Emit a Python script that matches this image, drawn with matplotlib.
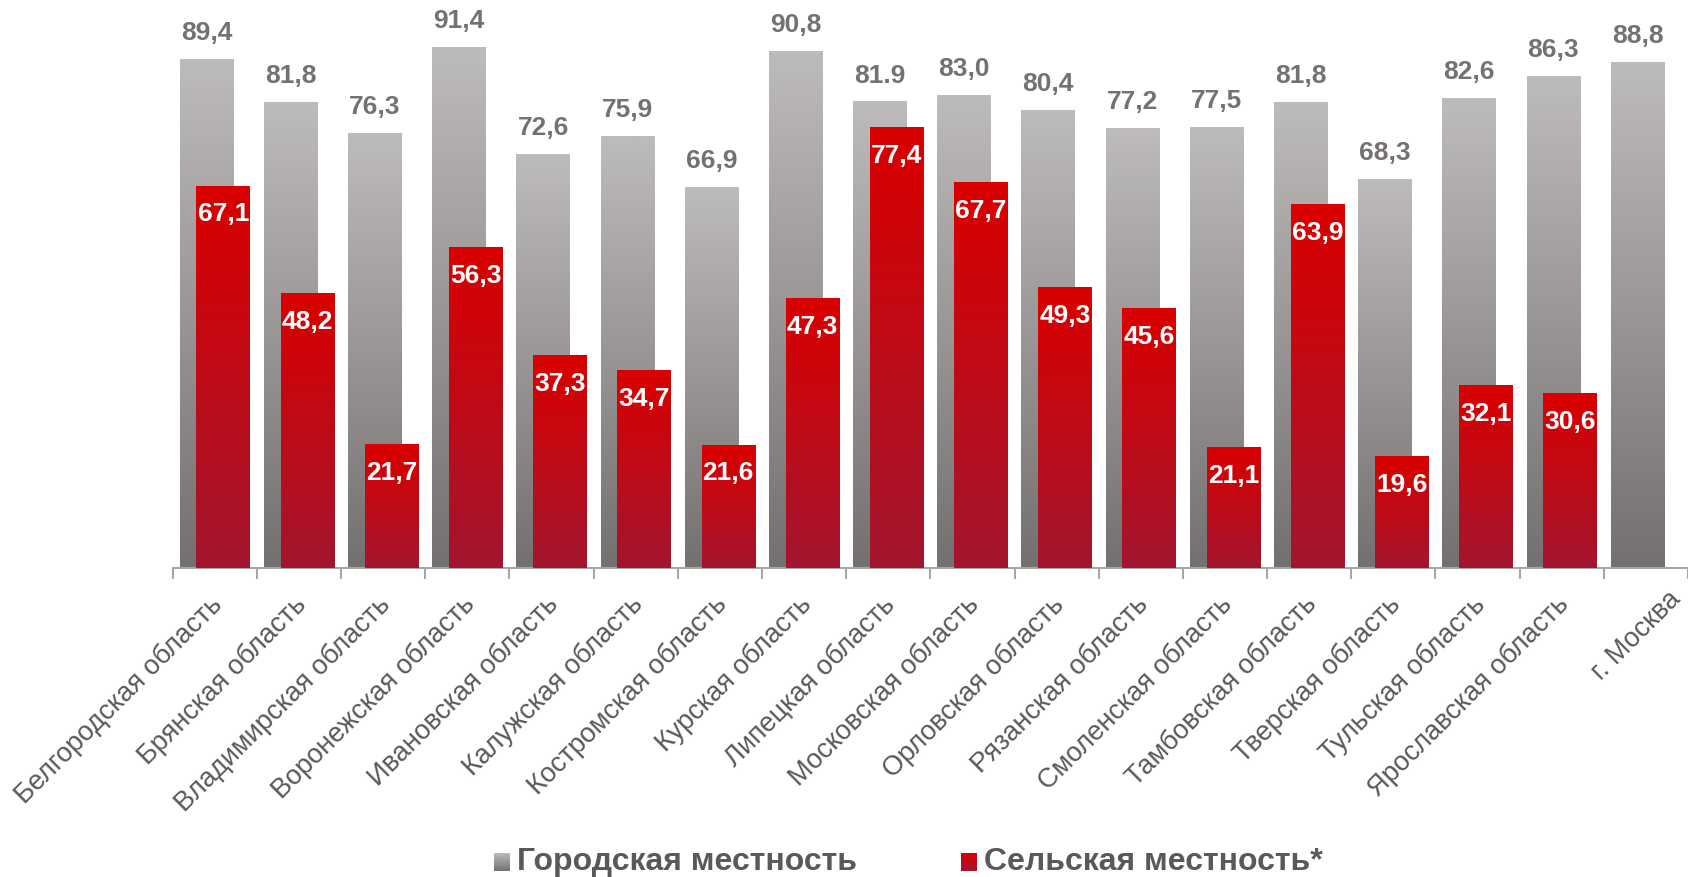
import numpy as np
import matplotlib
matplotlib.use('Agg')
import matplotlib.pyplot as plt
import matplotlib.transforms as mtransforms
from matplotlib.colors import LinearSegmentedColormap

plt.rcParams['font.family'] = ['Liberation Sans', 'DejaVu Sans']

# ---- данные ----
regions = ['Белгородская область', 'Брянская область', 'Владимирская область',
           'Воронежская область', 'Ивановская область', 'Калужская область',
           'Костромская область', 'Курская область', 'Липецкая область',
           'Московская область', 'Орловская область', 'Рязанская область',
           'Смоленская область', 'Тамбовская область', 'Тверская область',
           'Тульская область', 'Ярославская область', 'г. Москва']
urban = [89.4, 81.8, 76.3, 91.4, 72.6, 75.9, 66.9, 90.8, 81.9,
         83.0, 80.4, 77.2, 77.5, 81.8, 68.3, 82.6, 86.3, 88.8]
rural = [67.1, 48.2, 21.7, 56.3, 37.3, 34.7, 21.6, 47.3, 77.4,
         67.7, 49.3, 45.6, 21.1, 63.9, 19.6, 32.1, 30.6, np.nan]
urban_labels = ['89,4', '81,8', '76,3', '91,4', '72,6', '75,9', '66,9', '90,8', '81.9',
                '83,0', '80,4', '77,2', '77,5', '81,8', '68,3', '82,6', '86,3', '88,8']
legend_names = ['Городская местность', 'Сельская местность*']

GRAY = ('#747070', '#bebcba')   # низ, верх
RED = ('#a3162f', '#da0000')

W, H, DPI = 1688, 877, 100
fig = plt.figure(figsize=(W / DPI, H / DPI), dpi=DPI)

# оси в пикселях: базовая линия y=568, шаг категорий 85 px
x0_px, base_px, step_px, px_per_unit = 172.7, 567.7, 85.0, 5.69
ax = fig.add_axes([x0_px / W, (H - base_px) / H, (W - x0_px) / W, base_px / H])
xlim = (-0.5, -0.5 + (W - x0_px) / step_px)
ylim = (0, base_px / px_per_unit)

x = np.arange(len(regions))
bw, off = 0.635, 0.1
bars_u = ax.bar(x - off, urban, width=bw, color='none', linewidth=0)
bars_r = ax.bar(x + off, np.nan_to_num(rural), width=bw, color='none', linewidth=0)

grad = np.linspace(0, 1, 256).reshape(-1, 1)


def fill_gradient(bars, colors, z):
    cmap = LinearSegmentedColormap.from_list('g', list(colors))
    for b in bars:
        h = b.get_height()
        if not h:
            continue
        ax.imshow(grad, extent=[b.get_x(), b.get_x() + b.get_width(), 0, h],
                  origin='lower', cmap=cmap, aspect='auto', zorder=z)


fill_gradient(bars_u, GRAY, 2)
fill_gradient(bars_r, RED, 3)

for xi, v, s in zip(x, urban, urban_labels):
    ax.text(xi - off, v + 4.6, s, ha='center', va='center', fontsize=19,
            fontweight='bold', color='#767171', zorder=5)
for xi, v in zip(x, rural):
    if np.isnan(v):
        continue
    ax.text(xi + off, v - 5.0, f'{v:.1f}'.replace('.', ','), ha='center', va='center',
            fontsize=19, fontweight='bold', color='white', zorder=5)

ax.set_xlim(*xlim)
ax.set_ylim(*ylim)
for s in ['top', 'right', 'left']:
    ax.spines[s].set_visible(False)
ax.spines['bottom'].set_color('#a6a6a6')
ax.spines['bottom'].set_linewidth(1.5)
ax.set_yticks([])
ax.set_xticks(x)
ax.set_xticklabels(regions, rotation=45, ha='right', rotation_mode='anchor',
                   fontsize=19.5, color='#595959')
ax.tick_params(axis='x', which='major', length=0, pad=17)
labels = ax.get_xticklabels()
for i, lab in enumerate(labels):
    # подпись последней категории в оригинале сдвинута вправо
    dx, dy = (22, 5) if i == len(labels) - 1 else (-6, 0)
    shift = mtransforms.ScaledTranslation(dx / DPI, dy / DPI, fig.dpi_scale_trans)
    lab.set_transform(lab.get_transform() + shift)
ax.set_xticks(np.arange(len(regions) + 1) - 0.5, minor=True)
ax.tick_params(axis='x', which='minor', length=8, width=1.5, color='#a6a6a6')

# легенда
leg = [(494, legend_names[0], GRAY), (961, legend_names[1], RED)]
for lx, name, cols in leg:
    sq = fig.add_axes([lx / W, (H - 871) / H, 16 / W, 18 / H])
    sq.imshow(grad, origin='lower', aspect='auto',
              cmap=LinearSegmentedColormap.from_list('l', list(cols)))
    sq.axis('off')
    fig.text((lx + 23) / W, (H - 862) / H, name, ha='left', va='center',
             fontsize=23, fontweight='bold', color='#595959')

fig.savefig('out.png', dpi=DPI)
